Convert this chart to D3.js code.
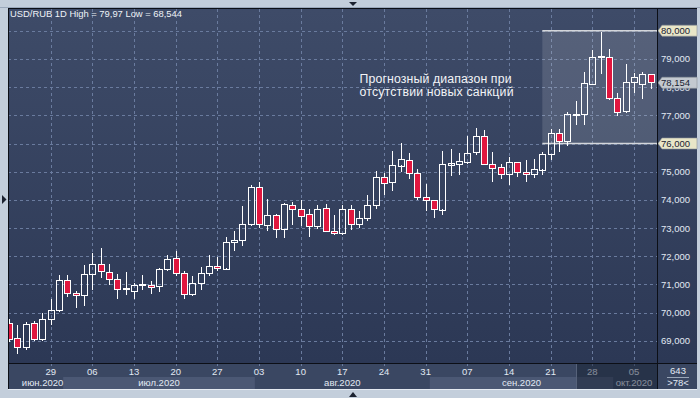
<!DOCTYPE html>
<html>
<head>
<meta charset="utf-8">
<title>USD/RUB 1D</title>
<script src="https://cdn.jsdelivr.net/npm/d3@7"></script>
<style>
  body { margin: 0; background: #c3cedb; }
  svg { display: block; font-family: "Liberation Sans", Arial, sans-serif; }
</style>
</head>
<body>
<div id="chart"></div>
<script>
  // daily candles, weekdays only
  const dates = [
    "2020-06-22","2020-06-23","2020-06-24","2020-06-25","2020-06-26","2020-06-29","2020-06-30",
    "2020-07-01","2020-07-02","2020-07-03","2020-07-06","2020-07-07","2020-07-08","2020-07-09","2020-07-10",
    "2020-07-13","2020-07-14","2020-07-15","2020-07-16","2020-07-17","2020-07-20","2020-07-21","2020-07-22",
    "2020-07-23","2020-07-24","2020-07-27","2020-07-28","2020-07-29","2020-07-30","2020-07-31",
    "2020-08-03","2020-08-04","2020-08-05","2020-08-06","2020-08-07","2020-08-10","2020-08-11","2020-08-12",
    "2020-08-13","2020-08-14","2020-08-17","2020-08-18","2020-08-19","2020-08-20","2020-08-21","2020-08-24",
    "2020-08-25","2020-08-26","2020-08-27","2020-08-28","2020-08-31",
    "2020-09-01","2020-09-02","2020-09-03","2020-09-04","2020-09-07","2020-09-08","2020-09-09","2020-09-10",
    "2020-09-11","2020-09-14","2020-09-15","2020-09-16","2020-09-17","2020-09-18","2020-09-21","2020-09-22",
    "2020-09-23","2020-09-24","2020-09-25","2020-09-28","2020-09-29","2020-09-30",
    "2020-10-01","2020-10-02","2020-10-05","2020-10-06","2020-10-07"
  ]
  const open = [
    69.65,69.11,68.78,69.62,69.07,69.78,70.10,
    71.17,70.71,70.64,71.38,71.74,71.45,71.20,70.85,
    70.77,70.99,70.99,70.94,71.54,71.95,71.42,70.67,
    71.06,71.42,71.67,71.57,72.51,72.59,73.15,
    74.46,73.10,73.47,72.97,73.82,73.68,73.50,73.07,
    73.72,72.90,72.83,73.68,73.15,73.36,73.82,74.82,
    74.60,75.22,75.41,74.96,74.11,
    74.01,73.67,75.26,75.29,75.35,75.68,76.26,75.29,
    75.15,74.91,75.33,74.98,74.91,75.08,75.63,76.36,
    76.09,77.02,77.03,78.13,79.08,79.08,
    77.63,77.15,78.19,78.11,78.45
  ]
  const high = [
    69.78,69.58,69.68,69.72,70.00,70.47,71.35,
    71.32,70.77,71.68,72.10,72.30,71.74,71.36,71.46,
    71.06,71.35,71.14,71.60,72.03,72.18,71.48,71.30,
    71.63,72.03,71.97,72.70,72.89,73.80,74.54,
    74.63,74.04,73.50,73.90,73.94,74.01,73.66,73.83,
    73.87,73.48,73.83,73.83,73.60,74.19,75.04,74.96,
    75.75,76.02,75.67,75.10,74.58,
    74.01,75.73,75.82,75.68,76.26,76.56,76.47,75.71,
    75.29,75.51,75.35,75.41,75.44,75.71,76.53,76.53,
    77.10,77.51,78.52,79.31,79.97,79.34,
    77.80,78.82,78.51,78.54,78.45
  ]
  const low = [
    68.95,68.544,68.66,68.99,68.99,69.58,70.02,
    70.56,70.17,70.23,70.80,71.24,71.00,70.50,70.61,
    70.47,70.80,70.65,70.75,71.48,71.30,70.49,70.59,
    70.80,71.30,71.48,71.54,72.20,72.38,73.09,
    73.00,72.89,72.64,72.64,73.12,73.09,72.67,72.97,
    72.85,72.77,72.75,72.92,73.00,73.24,73.66,74.19,
    74.31,74.98,74.75,74.01,73.60,
    73.36,73.47,74.86,74.90,75.29,75.59,75.24,74.65,
    74.73,74.53,74.82,74.65,74.79,74.88,75.42,75.70,
    75.90,76.65,76.65,78.13,78.45,77.54,
    76.98,77.07,77.80,77.57,77.92
  ]
  const close = [
    69.10,68.79,69.60,69.07,69.78,70.10,71.17,
    70.71,70.64,71.38,71.74,71.48,71.20,70.85,70.87,
    70.99,71.00,70.91,71.54,71.90,71.42,70.67,71.06,
    71.42,71.67,71.60,72.52,72.59,73.15,74.46,
    73.15,73.47,72.97,73.86,73.68,73.44,73.07,73.68,
    72.89,72.83,73.68,73.15,73.36,73.82,74.82,74.60,
    75.22,75.46,74.96,74.11,74.01,
    73.68,75.29,75.32,75.38,75.68,76.26,75.27,75.14,
    74.91,75.33,74.98,74.91,75.08,75.63,76.36,76.09,
    77.03,77.04,78.13,79.08,79.11,77.63,
    77.15,78.19,78.37,78.45,78.154
  ]

  const yTicks = [69, 70, 71, 72, 73, 74, 75, 76, 77, 78, 79, 80]
  const monthKeys = ["2020-06", "2020-07", "2020-08", "2020-09", "2020-10"]
  const monthLabels = ["июн.2020", "июл.2020", "авг.2020", "сен.2020", "окт.2020"]
  const title = "USD/RUB 1D High = 79,97 Low = 68,544"
  const note = ["Прогнозный диапазон при", "отсутствии новых санкций"]
  const rangeStart = "2020-09-18"
  const rangeLow = 76
  const rangeHigh = 80
  const lastPrice = 78.154
  const barCount = "643"
  const counterLabel = ">78<"

  const width = 700
  const height = 398
  const plotLeft = 8, plotRight = 657, plotTop = 9, plotBottom = 363, panelRight = 697, panelBottom = 389

  const rub = d3.formatLocale({ decimal: ",", thousands: " ", grouping: [3], currency: ["", ""] })
  const fmt = rub.format(".3f")
  const parse = d3.timeParse("%Y-%m-%d")
  const dayFmt = d3.timeFormat("%d")

  const candles = dates.map((d, i) => ({ date: d, o: open[i], h: high[i], l: low[i], c: close[i] }))

  const step = 8.333
  const x = d3.scaleBand().domain(dates).range([9 - step / 2, 9 - step / 2 + step * dates.length]).padding(0)
  const cx = d => x(d) + x.bandwidth() / 2
  const y = d3.scaleLinear().domain([69, 80]).range([340.9, 30.7])

  const svg = d3.select("#chart").append("svg")
    .attr("width", width)
    .attr("height", height)

  const defs = svg.append("defs")
  const grad = defs.append("linearGradient").attr("id", "bg")
    .attr("gradientUnits", "userSpaceOnUse")
    .attr("x1", 0).attr("y1", plotTop).attr("x2", 0).attr("y2", plotBottom)
  grad.append("stop").attr("offset", 0).attr("stop-color", "#3e4b68")
  grad.append("stop").attr("offset", 1).attr("stop-color", "#2c3855")
  defs.append("clipPath").attr("id", "plotclip")
    .append("rect").attr("x", plotLeft + 1).attr("y", plotTop).attr("width", plotRight - plotLeft - 1).attr("height", plotBottom - plotTop)

  // outer frame
  svg.append("rect").attr("width", width).attr("height", height).attr("fill", "#c3cedb")
  svg.append("line").attr("x1", 0).attr("x2", width).attr("y1", 7.5).attr("y2", 7.5).attr("stroke", "#9aa8bb")
  svg.append("line").attr("x1", plotLeft).attr("x2", panelRight).attr("y1", panelBottom + 0.5).attr("y2", panelBottom + 0.5).attr("stroke", "#e4eaf1")
  svg.append("path").attr("d", "M349,2 L357,2 L353,6 Z").attr("fill", "#1c2230")
  svg.append("path").attr("d", "M349,397 L357,397 L353,392 Z").attr("fill", "#1c2230")
  svg.append("path").attr("d", "M2,195 L2,204 L6.5,199.5 Z").attr("fill", "#1c2230")

  // panels
  svg.append("rect").attr("x", plotLeft).attr("y", 8).attr("width", panelRight - plotLeft).attr("height", plotBottom - 8).attr("fill", "url(#bg)")
  svg.append("rect").attr("x", plotLeft).attr("y", plotBottom).attr("width", panelRight - plotLeft).attr("height", panelBottom - plotBottom).attr("fill", "#3a4762")

  // month bands on the time axis
  const monthSpans = monthKeys.map((k, i) => {
    const idx = dates.map((d, j) => d.startsWith(k) ? j : -1).filter(j => j >= 0)
    const a = Math.max(plotLeft + 1, x(dates[idx[0]]))
    const b = Math.min(plotRight, x(dates[idx[idx.length - 1]]) + x.bandwidth())
    return { a, b, label: monthLabels[i], shade: i % 2 === 1 }
  })
  svg.append("g").selectAll("rect")
    .data(monthSpans.filter(m => m.shade))
    .enter().append("rect")
    .attr("x", m => m.a).attr("y", 377).attr("width", m => m.b - m.a).attr("height", panelBottom - 377)
    .attr("fill", "#4b5874")

  // grid
  const mondays = dates.filter((d, i) => i > 0 && parse(d).getDay() === 1)
  const grid = svg.append("g").attr("stroke", "#6a7b9e").attr("stroke-dasharray", "3,3").attr("stroke-width", 1)
  grid.selectAll(".gy").data(yTicks).enter().append("line")
    .attr("x1", plotLeft).attr("x2", plotRight)
    .attr("y1", d => Math.round(y(d)) + 0.5).attr("y2", d => Math.round(y(d)) + 0.5)
  grid.selectAll(".gx").data(mondays).enter().append("line")
    .attr("x1", d => Math.round(cx(d)) + 0.5).attr("x2", d => Math.round(cx(d)) + 0.5)
    .attr("y1", plotTop).attr("y2", plotBottom)
  svg.append("g").attr("stroke", "#6a7b9e").attr("stroke-dasharray", "2,3")
    .selectAll("line").data(mondays).enter().append("line")
    .attr("x1", d => Math.round(cx(d)) + 0.5).attr("x2", d => Math.round(cx(d)) + 0.5)
    .attr("y1", plotBottom + 1).attr("y2", plotBottom + 4)

  // forecast range box
  const rx = cx(rangeStart)
  svg.append("rect")
    .attr("x", rx).attr("y", y(rangeHigh)).attr("width", plotRight - rx).attr("height", y(rangeLow) - y(rangeHigh))
    .attr("fill", "#ffffff").attr("fill-opacity", 0.13)
  svg.append("g").attr("stroke", "#d4d6da").attr("stroke-width", 1.6)
    .selectAll("line").data([rangeHigh, rangeLow]).enter().append("line")
    .attr("x1", rx).attr("x2", plotRight).attr("y1", d => y(d)).attr("y2", d => y(d))

  // candles
  const cg = svg.append("g").attr("clip-path", "url(#plotclip)").attr("shape-rendering", "crispEdges")
  const bw = 6
  const candle = cg.selectAll("g").data(candles).enter().append("g")
  candle.append("line")
    .attr("x1", d => Math.round(cx(d.date)) + 0.5).attr("x2", d => Math.round(cx(d.date)) + 0.5)
    .attr("y1", d => y(d.h)).attr("y2", d => y(Math.max(d.o, d.c)))
    .attr("stroke", "#ffffff").attr("stroke-width", 1)
  candle.append("line")
    .attr("x1", d => Math.round(cx(d.date)) + 0.5).attr("x2", d => Math.round(cx(d.date)) + 0.5)
    .attr("y1", d => y(Math.min(d.o, d.c))).attr("y2", d => y(d.l))
    .attr("stroke", "#ffffff").attr("stroke-width", 1)
  candle.append("rect")
    .attr("x", d => Math.round(cx(d.date)) - bw / 2 + 0.5)
    .attr("y", d => Math.round(y(Math.max(d.o, d.c))) + 0.5)
    .attr("width", bw)
    .attr("height", d => Math.max(1, Math.round(Math.abs(y(d.o) - y(d.c)))))
    .attr("fill", d => d.c < d.o ? "#e0173f" : "none")
    .attr("stroke", "#ffffff").attr("stroke-width", 1)

  // right price axis
  const yAxis = svg.append("g")
    .attr("transform", `translate(${plotRight},0)`)
    .call(d3.axisRight(y).tickValues(yTicks).tickFormat(fmt).tickSize(0).tickPadding(4))
  yAxis.select(".domain").remove()
  yAxis.selectAll("text").attr("fill", "#e2e9f3").attr("font-size", 9.5).attr("font-family", null)

  // marker tags on the price axis
  function tag(value, fill, label) {
    const yy = y(value)
    const g = svg.append("g")
    g.append("path")
      .attr("d", `M${plotRight + 1},${yy} L${plotRight + 5},${yy - 5.5} L${panelRight},${yy - 5.5} L${panelRight},${yy + 5.5} L${plotRight + 5},${yy + 5.5} Z`)
      .attr("fill", fill).attr("stroke", "#8d939a").attr("stroke-width", 0.6)
    g.append("text").attr("x", plotRight + 4).attr("y", yy).attr("dy", "0.35em")
      .attr("font-size", 9.5).attr("fill", "#1a2233").text(label)
  }
  tag(rangeHigh, "#e9e6c8", fmt(rangeHigh))
  tag(lastPrice, "#c3c9d0", fmt(lastPrice))
  tag(rangeLow, "#e9e6c8", fmt(rangeLow))

  // time axis
  const xAxis = svg.append("g")
    .attr("transform", `translate(0,${plotBottom})`)
    .call(d3.axisBottom(x).tickValues(mondays).tickFormat(d => dayFmt(parse(d))).tickSize(0).tickPadding(5))
  xAxis.select(".domain").remove()
  xAxis.selectAll("text").attr("fill", "#e2e9f3").attr("font-size", 9.5).attr("font-family", null)

  svg.append("g").selectAll("text")
    .data(monthSpans).enter().append("text")
    .attr("x", m => (Math.max(m.a, 22) + m.b) / 2)
    .attr("y", 383).attr("dy", "0.35em")
    .attr("text-anchor", "middle").attr("font-size", 9.5).attr("fill", "#e2e9f3")
    .text(m => m.label)

  // dimmed tail of the time axis
  const dimX = Math.round(cx(dates[68]))
  svg.append("rect").attr("x", dimX).attr("y", plotBottom).attr("width", plotRight - dimX).attr("height", panelBottom - plotBottom)
    .attr("fill", "#121a2c").attr("fill-opacity", 0.45)
  svg.append("line").attr("x1", dimX + 0.5).attr("x2", dimX + 0.5).attr("y1", plotBottom).attr("y2", panelBottom)
    .attr("stroke", "#56627a")

  // counter box
  svg.append("text").attr("x", 678).attr("y", 371).attr("dy", "0.35em").attr("text-anchor", "middle")
    .attr("font-size", 9.5).attr("fill", "#e2e9f3").text(barCount)
  svg.append("line").attr("x1", 667).attr("x2", 689).attr("y1", 377.5).attr("y2", 377.5).attr("stroke", "#9aa6b8")
  svg.append("text").attr("x", 678).attr("y", 383).attr("dy", "0.35em").attr("text-anchor", "middle")
    .attr("font-size", 9.5).attr("fill", "#e2e9f3").text(counterLabel)

  // frame lines
  const frame = svg.append("g").attr("stroke", "#0c0f16").attr("stroke-width", 1).attr("shape-rendering", "crispEdges")
  frame.append("line").attr("x1", plotLeft).attr("x2", panelRight).attr("y1", 8.5).attr("y2", 8.5)
  frame.append("line").attr("x1", plotLeft + 0.5).attr("x2", plotLeft + 0.5).attr("y1", 8).attr("y2", panelBottom)
  frame.append("line").attr("x1", plotRight + 0.5).attr("x2", plotRight + 0.5).attr("y1", 8).attr("y2", panelBottom)
  frame.append("line").attr("x1", plotLeft).attr("x2", panelRight).attr("y1", plotBottom + 0.5).attr("y2", plotBottom + 0.5)

  // texts
  svg.append("text").attr("x", 10).attr("y", 17.3).attr("font-size", 9.4).attr("fill", "#eef2f7").text(title)
  svg.append("g").selectAll("text").data(note).enter().append("text")
    .attr("x", 359.5).attr("y", (d, i) => 82.7 + i * 13)
    .attr("font-size", 12.3)
    .attr("textLength", (d, i) => [152, 154][i]).attr("lengthAdjust", "spacing")
    .attr("fill", "#f2f4f7")
    .text(d => d)
</script>
</body>
</html>
